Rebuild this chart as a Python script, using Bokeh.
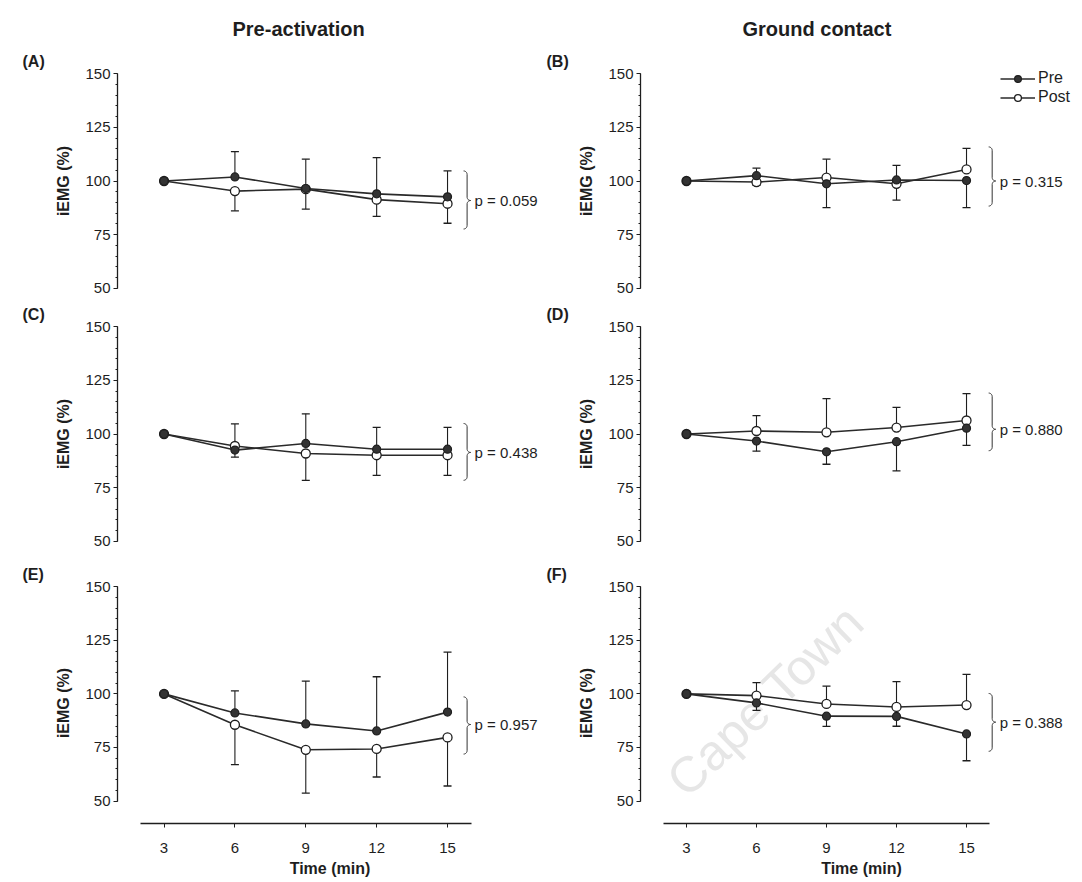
import numpy as np
from bokeh.plotting import figure
from bokeh.models import Range1d, FixedTicker, Label, Legend, LegendItem, Title
from bokeh.layouts import column, row
from bokeh.embed import file_html
from bokeh.resources import INLINE
from bokeh.core.properties import value

# ---------------- data ----------------
time_min = [3, 6, 9, 12, 15]

# (A) pre-activation, panel 1
a_pre = [100, 101.9, 96.5, 94.0, 92.6]
a_pre_sd = [0, 11.8, 13.7, 16.9, 12.1]
a_post = [100, 95.3, 96.2, 91.3, 89.4]
a_post_sd = [0, 9.2, 9.3, 7.8, 9.1]

# (B) ground contact, panel 1
b_pre = [100, 102.5, 98.7, 100.5, 100.2]
b_pre_sd = [0, 3.5, 11.1, 6.8, 12.6]
b_post = [100, 99.5, 101.6, 98.7, 105.4]
b_post_sd = [0, 1.5, 8.6, 7.6, 9.8]

# (C) pre-activation, panel 2
c_pre = [100, 92.5, 95.6, 92.9, 92.9]
c_pre_sd = [0, 3.3, 13.8, 10.2, 10.2]
c_post = [100, 94.4, 90.9, 90.1, 90.1]
c_post_sd = [0, 10.3, 12.5, 9.4, 9.4]

# (D) ground contact, panel 2
d_pre = [100, 96.7, 91.7, 96.4, 102.7]
d_pre_sd = [0, 4.7, 5.8, 13.6, 8.0]
d_post = [100, 101.4, 100.8, 103.0, 106.3]
d_post_sd = [0, 7.2, 15.7, 9.4, 12.5]

# (E) pre-activation, panel 3
e_pre = [100, 91.1, 86.0, 82.7, 91.5]
e_pre_sd = [0, 10.3, 20.0, 25.3, 28.0]
e_post = [100, 85.6, 73.9, 74.3, 79.7]
e_post_sd = [0, 18.6, 20.2, 13.1, 22.7]

# (F) ground contact, panel 3
f_pre = [100, 95.8, 89.6, 89.5, 81.3]
f_pre_sd = [0, 3.5, 4.8, 4.6, 12.5]
f_post = [100, 99.2, 95.3, 93.9, 94.8]
f_post_sd = [0, 6.1, 8.3, 11.8, 14.3]

panel_tags = ["(A)", "(B)", "(C)", "(D)", "(E)", "(F)"]
p_labels = ["p = 0.059", "p = 0.315", "p = 0.438", "p = 0.880", "p = 0.957", "p = 0.388"]
# spans grouped by each brace (upper end, lower end, point of the brace)
brace_top = [104.7, 115.9, 104.9, 119.1, 98.6, 100.2]
brace_bottom = [77.6, 88.3, 78.4, 92.2, 71.9, 73.2]
brace_tip = [90.9, 100.0, 91.4, 102.2, 85.7, 86.8]

column_titles = ["Pre-activation", "Ground contact"]
y_major = [50, 75, 100, 125, 150]
x_major = [3, 6, 9, 12, 15]

# ---------------- layout geometry ----------------
FONT = "Liberation Sans"
INK = "#1e1e1e"
COL_W = [542, 540]
COL_ML = [117, 98]
COL_XR = [(1.03, 19.02), (1.03, 19.97)]
BRACE_X = [15.68, 15.95]
TAG_OFFSET = [-95, -94]
HEAD_OFFSET = [115, 102]
ROW_H = [296, 261, 325]
ROW_MT = [69, 26, 25]
ROW_MB = [4, 12, 59]
ROW_YLO = [48, 48, 39.5]
Y_TOP = 152


def brace_path(x0, top, bottom, tip, ux, uy, w=3.5, r=3.5):
    """Curly brace opening to the left, pointing right at `tip`."""
    dw, dr = w * ux, r * uy
    t = np.linspace(0, np.pi / 2, 10)
    xs, ys = [], []
    xs += list(x0 + dw * np.sin(t)); ys += list(top - dr + dr * np.cos(t))
    xs += list(x0 + 2 * dw - dw * np.cos(t)); ys += list(tip + dr - dr * np.sin(t))
    xs += list(x0 + 2 * dw - dw * np.sin(t)); ys += list(tip - dr + dr * np.cos(t))
    xs += list(x0 + dw * np.cos(t)); ys += list(bottom + dr - dr * np.sin(t))
    return xs, ys, x0 + 2 * dw


def make_panel(idx, pre, pre_sd, post, post_sd, legend=False, watermark=False):
    col, rw = idx % 2, idx // 2
    bottom_row = rw == 2
    p = figure(width=COL_W[col], height=ROW_H[rw], title=None,
               min_border_left=COL_ML[col], min_border_right=0,
               min_border_top=ROW_MT[rw], min_border_bottom=ROW_MB[rw],
               x_range=Range1d(*COL_XR[col]), y_range=Range1d(ROW_YLO[rw], Y_TOP),
               x_axis_location="below" if bottom_row else None,
               output_backend="svg", toolbar_location=None)
    p.outline_line_color = None
    p.grid.grid_line_color = None
    p.background_fill_color = "white"
    p.border_fill_color = "white"

    # y axis bounded to 50-150 with outward ticks
    ya = p.yaxis[0]
    ya.ticker = FixedTicker(ticks=y_major, minor_ticks=list(range(50, 151, 5)))
    ya.bounds = (50, 150)
    ya.axis_label = "iEMG (%)"
    ya.axis_label_text_font = FONT
    ya.axis_label_text_font_style = "bold"
    ya.axis_label_text_font_size = "16px"
    ya.axis_label_text_color = INK
    ya.axis_label_standoff = 10
    ya.major_label_text_font = FONT
    ya.major_label_text_font_size = "15px"
    ya.major_label_text_color = INK
    ya.major_label_standoff = 3
    ya.axis_line_color = INK
    ya.axis_line_width = 1.3
    ya.major_tick_line_color = INK
    ya.minor_tick_line_color = INK
    ya.major_tick_out = 4
    ya.major_tick_in = 0
    ya.minor_tick_out = 2
    ya.minor_tick_in = 0

    if bottom_row:
        xa = p.xaxis[0]
        xa.ticker = FixedTicker(ticks=x_major, minor_ticks=[])
        xa.bounds = (2, 16)
        xa.axis_label = "Time (min)"
        xa.axis_label_text_font = FONT
        xa.axis_label_text_font_style = "bold"
        xa.axis_label_text_font_size = "16px"
        xa.axis_label_text_color = INK
        xa.axis_label_standoff = 4
        xa.major_label_text_font = FONT
        xa.major_label_text_font_size = "15px"
        xa.major_label_text_color = INK
        xa.major_label_standoff = 15
        xa.axis_line_color = INK
        xa.axis_line_width = 1.3
        xa.major_tick_line_color = INK
        xa.major_tick_out = 4
        xa.major_tick_in = 0

    # panel tag and column heading above the frame
    p.add_layout(Title(text=panel_tags[idx], align="left", offset=TAG_OFFSET[col], standoff=0,
                       text_font=FONT, text_font_style="bold", text_font_size="16px",
                       text_color=INK), "above")
    if rw == 0:
        p.add_layout(Title(text=column_titles[col], align="left", offset=HEAD_OFFSET[col], standoff=22,
                           text_font=FONT, text_font_style="bold", text_font_size="20px",
                           text_color=INK), "above")

    t = np.array(time_min, dtype=float)
    pre = np.array(pre); post = np.array(post)
    pre_sd = np.array(pre_sd); post_sd = np.array(post_sd)
    # the upper series carries its error bar upward, the lower one downward
    pre_up = pre >= post
    pre_end = np.where(pre_up, pre + pre_sd, pre - pre_sd)
    post_end = np.where(pre_up, post - post_sd, post + post_sd)
    for vals, ends, sd in ((pre, pre_end, pre_sd), (post, post_end, post_sd)):
        m = sd > 0
        p.segment(x0=t[m], y0=vals[m], x1=t[m], y1=ends[m], line_color=INK, line_width=1.1)
        p.scatter(t[m], ends[m], marker="dash", size=8, line_color=INK, line_width=1.3)

    post_line = p.line(t, post, line_color="#2a2a2a", line_width=1.6)
    pre_line = p.line(t, pre, line_color="#2a2a2a", line_width=1.6)
    post_pts = p.scatter(t, post, size=9, fill_color="white", line_color=INK, line_width=1.3)
    pre_pts = p.scatter(t, pre, size=8, fill_color="#333333", line_color=INK, line_width=1.2)

    # brace + p value
    xr = COL_XR[col]
    frame_w = COL_W[col] - COL_ML[col]
    frame_h = ROW_H[rw] - ROW_MT[rw] - ROW_MB[rw]
    ux = (xr[1] - xr[0]) / frame_w
    uy = (Y_TOP - ROW_YLO[rw]) / frame_h
    bx, by, tip_x = brace_path(BRACE_X[col], brace_top[idx], brace_bottom[idx], brace_tip[idx], ux, uy)
    p.line(bx, by, line_color="#333333", line_width=1.0)
    p.text(x=[tip_x + 4 * ux], y=[brace_tip[idx]], text=[p_labels[idx]],
           text_font=value(FONT), text_font_size="15px", text_color=INK,
           text_align="left", text_baseline="middle")

    if watermark:
        # faint diagonal watermark
        p.add_layout(Label(x=125, y=123, x_units="screen", y_units="screen",
                           text="Cape Town", text_font=FONT, text_font_size="50px",
                           text_color="#e6e6e6", angle=44, angle_units="deg",
                           text_align="center", text_baseline="middle", level="underlay"))

    if legend:
        lg = Legend(items=[LegendItem(label="Pre", renderers=[pre_line, pre_pts]),
                           LegendItem(label="Post", renderers=[post_line, post_pts])],
                    location=(360, frame_h - 37),
                    padding=0, margin=0, spacing=1,
                    glyph_width=35, glyph_height=17, label_height=17, label_standoff=3,
                    label_text_font=FONT, label_text_font_size="16px", label_text_color=INK,
                    border_line_color=None, background_fill_alpha=0)
        p.add_layout(lg)
    return p


pa = make_panel(0, a_pre, a_pre_sd, a_post, a_post_sd)
pb = make_panel(1, b_pre, b_pre_sd, b_post, b_post_sd, legend=True)
pc = make_panel(2, c_pre, c_pre_sd, c_post, c_post_sd)
pd_ = make_panel(3, d_pre, d_pre_sd, d_post, d_post_sd)
pe = make_panel(4, e_pre, e_pre_sd, e_post, e_post_sd)
pf = make_panel(5, f_pre, f_pre_sd, f_post, f_post_sd, watermark=True)

layout = column(row(pa, pb, spacing=0), row(pc, pd_, spacing=0), row(pe, pf, spacing=0), spacing=0)

with open("out.html", "w") as fh:
    fh.write(file_html(layout, INLINE))
